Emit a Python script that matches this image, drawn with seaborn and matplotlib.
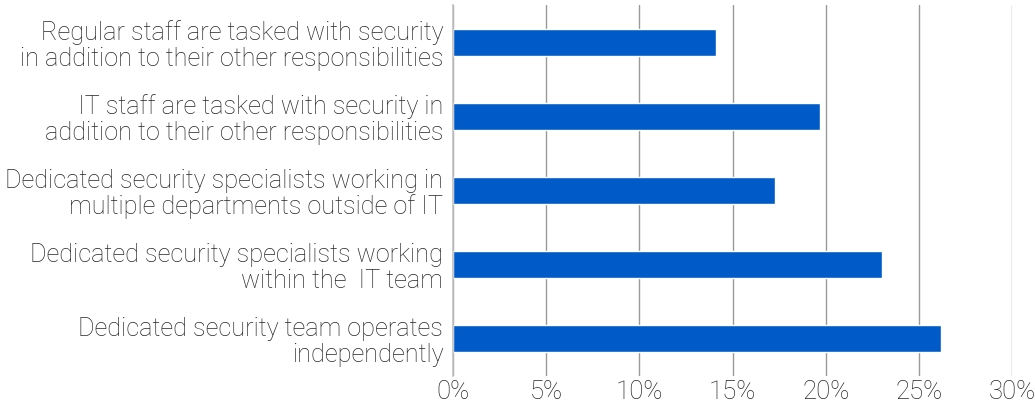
import matplotlib
matplotlib.use("Agg")
import matplotlib.pyplot as plt
from matplotlib.ticker import PercentFormatter
import seaborn as sns
import pandas as pd

categories = [
    "Regular staff are tasked with security\nin addition to their other responsibilities",
    "IT staff are tasked with security in\naddition to their other responsibilities",
    "Dedicated security specialists working in\nmultiple departments outside of IT",
    "Dedicated security specialists working\nwithin the  IT team",
    "Dedicated security team operates\nindependently",
]
shares = [14.1, 19.7, 17.3, 23.0, 26.2]
x_ticks = [0, 5, 10, 15, 20, 25, 30]

df = pd.DataFrame({"category": categories, "share": shares})

sns.set_theme(style="white")
plt.rcParams["font.family"] = ["Roboto", "DejaVu Sans"]

fig = plt.figure(figsize=(10.35, 4.07), dpi=100)
ax = fig.add_axes([0.4377, 0.077, 0.9778 - 0.4377, 0.910])

sns.barplot(data=df, y="category", x="share", orient="h", color="#005BC8",
            saturation=1, width=0.36, ax=ax)

ax.set_xlim(0, 30)
ax.set_ylim(4.5, -0.5)
ax.set_xticks(x_ticks)
ax.xaxis.set_major_formatter(PercentFormatter(decimals=0))
ax.set_xlabel("")
ax.set_ylabel("")
ax.set_axisbelow(True)
ax.xaxis.grid(True, color="#9a9a9a", linewidth=1.0)
ax.yaxis.grid(False)
for side in ("top", "right", "bottom"):
    ax.spines[side].set_visible(False)
ax.spines["left"].set_color("#c0c0c0")
ax.spines["left"].set_linewidth(1.2)
ax.tick_params(axis="both", length=0, labelcolor="#262626")
ax.tick_params(axis="y", pad=7, labelsize=18.2)
ax.tick_params(axis="x", pad=3, labelsize=18.5)
for lbl in ax.get_yticklabels():
    lbl.set_linespacing(1.1)
    lbl.set_fontweight("light")
    lbl.set_y(lbl.get_position()[1])
for lbl in ax.get_xticklabels():
    lbl.set_fontweight("light")

fig.savefig("out.png", dpi=100)
